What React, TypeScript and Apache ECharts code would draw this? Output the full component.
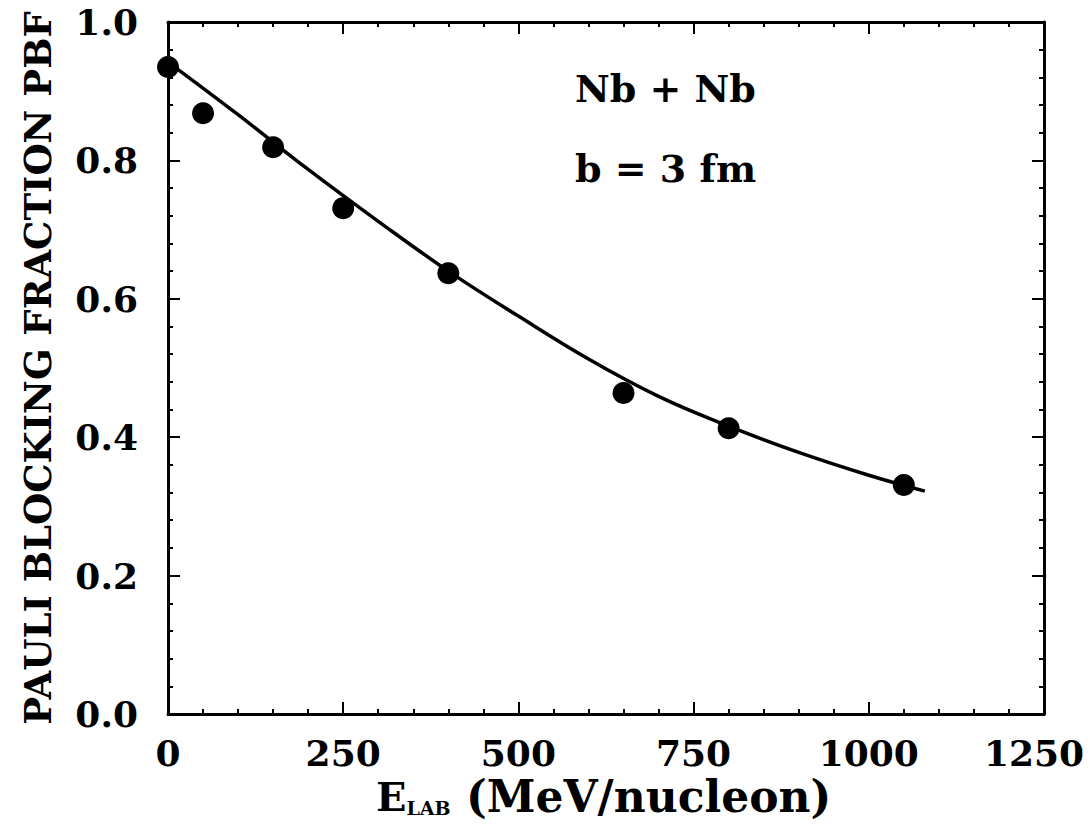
import React, { useEffect, useRef } from "react";
import * as echarts from "echarts";

// Measured Pauli blocking fraction for Nb + Nb at b = 3 fm
const energies = [0, 50, 150, 250, 400, 650, 800, 1050];
const pbfValues = [0.935, 0.868, 0.819, 0.731, 0.637, 0.464, 0.413, 0.331];

// Smooth trend curve through the measurements
const curveEnergies = [0, 100, 200, 300, 400, 500, 600, 700, 800, 900, 1000, 1080];
const curveValues = [0.942, 0.866, 0.787, 0.712, 0.64, 0.575, 0.513, 0.459, 0.416, 0.378, 0.345, 0.322];

const xTicks = [0, 250, 500, 750, 1000, 1250];
const yTicks = [0, 0.2, 0.4, 0.6, 0.8, 1.0];

const FONT = "DejaVu Serif";

export default function App() {
  const ref = useRef<HTMLDivElement>(null);

  useEffect(() => {
    document.body.style.margin = "0";
    const chart = echarts.init(ref.current!, null, { renderer: "svg" });

    const axisLine = { show: true, onZero: false, lineStyle: { color: "#000", width: 3 } };
    const axisTick = { show: true, inside: true, length: 12, lineStyle: { color: "#000", width: 2 } };
    const minorTick = { show: true, splitNumber: 5, length: 5, lineStyle: { color: "#000", width: 2 } };
    const labelStyle = { color: "#000", fontFamily: FONT, fontWeight: "bold" as const, fontSize: 36 };
    const xMax = xTicks[xTicks.length - 1];

    const xBase = {
      type: "value" as const,
      min: xTicks[0],
      max: xMax,
      interval: xTicks[1] - xTicks[0],
      axisLine,
      axisTick,
      minorTick,
      splitLine: { show: false },
    };
    const yBase = {
      type: "value" as const,
      min: yTicks[0],
      max: yTicks[yTicks.length - 1],
      interval: 0.2,
      axisLine,
      axisTick,
      minorTick,
      splitLine: { show: false },
    };

    chart.setOption({
      animation: false,
      backgroundColor: "#fff",
      grid: { left: 168, right: 46, top: 22, bottom: 112, containLabel: false, outerBoundsMode: "none" },
      xAxis: [
        {
          ...xBase,
          position: "bottom",
          axisLabel: {
            ...labelStyle,
            margin: 21,
            // the last label is nudged left so it stays inside the page
            formatter: (v: number) => (v === xMax ? `{last|${v}}` : String(v)),
            rich: {
              last: { ...labelStyle, padding: [0, 20, 0, 0] },
            },
          },
        },
        {
          ...xBase,
          position: "top",
          axisLabel: { show: false },
        },
      ],
      yAxis: [
        {
          ...yBase,
          position: "left",
          axisLabel: { ...labelStyle, margin: 30, formatter: (v: number) => v.toFixed(1) },
        },
        {
          ...yBase,
          position: "right",
          axisLabel: { show: false },
        },
      ],
      graphic: [
        {
          type: "text",
          x: 38,
          y: 368,
          rotation: Math.PI / 2,
          style: {
            text: "PAULI BLOCKING FRACTION PBF",
            fontFamily: FONT,
            fontWeight: "bold",
            fontSize: 37,
            fill: "#000",
            align: "center",
            verticalAlign: "middle",
          },
        },
        {
          type: "text",
          x: 376,
          y: 796,
          style: {
            text: "{e|E}{s|LAB}{n| (MeV/nucleon)}",
            fill: "#000",
            align: "left",
            verticalAlign: "middle",
            rich: {
              e: { fontFamily: FONT, fontWeight: "bold", fontSize: 40, fill: "#000" },
              s: { fontFamily: FONT, fontWeight: "bold", fontSize: 19, fill: "#000", padding: [24, 0, 0, 0] },
              n: { fontFamily: FONT, fontWeight: "bold", fontSize: 44, fill: "#000" },
            },
          },
        },
        {
          type: "text",
          x: 575,
          y: 88,
          style: {
            text: "Nb + Nb",
            fontFamily: FONT,
            fontWeight: "bold",
            fontSize: 38,
            fill: "#000",
            align: "left",
            verticalAlign: "middle",
          },
        },
        {
          type: "text",
          x: 575,
          y: 168,
          style: {
            text: "b = 3 fm",
            fontFamily: FONT,
            fontWeight: "bold",
            fontSize: 38,
            fill: "#000",
            align: "left",
            verticalAlign: "middle",
          },
        },
      ],
      series: [
        {
          type: "line",
          data: curveEnergies.map((e, i) => [e, curveValues[i]]),
          smooth: 0.4,
          showSymbol: false,
          lineStyle: { color: "#000", width: 3.5 },
          z: 2,
        },
        {
          type: "scatter",
          data: energies.map((e, i) => [e, pbfValues[i]]),
          symbol: "circle",
          symbolSize: 22,
          itemStyle: { color: "#000", opacity: 1 },
          z: 3,
        },
      ],
    });

    return () => chart.dispose();
  }, []);

  return <div ref={ref} style={{ width: 1090, height: 826 }} />;
}
